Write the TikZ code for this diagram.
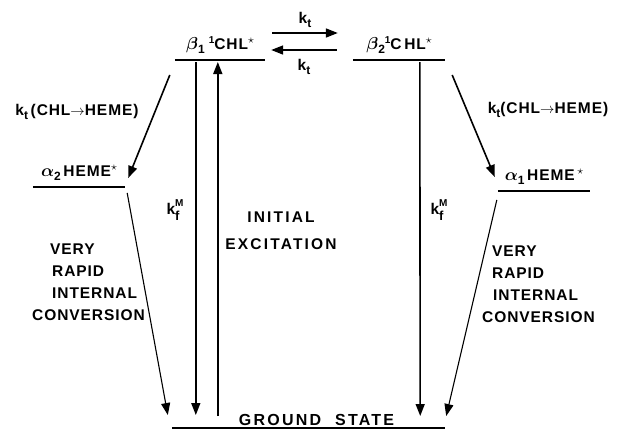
\documentclass[tikz,border=0pt]{standalone}
\usepackage{fontspec}
\setmainfont{Liberation Sans}
\newfontfamily\letterfont[LetterSpace=6]{Liberation Sans Bold}
\newfontfamily\widefont[LetterSpace=14]{Liberation Sans Bold}
\usetikzlibrary{arrows.meta, positioning}
\newcommand{\lowtxt}[1]{\raisebox{-4pt}{\fontsize{12}{12}\selectfont #1}}
\newcommand{\hightxt}[1]{\raisebox{6pt}{\fontsize{10}{10}\selectfont #1}}
\newcommand{\exstar}{\raisebox{6pt}{\fontsize{12}{12}\selectfont$\star$}}
\newcommand{\grk}[1]{{\fontsize{19}{19}\selectfont\boldmath$#1$}}
\newcommand{\kfM}{k\raisebox{-6pt}{\shortstack[l]{\fontsize{10}{10}\selectfont M\\[1pt]\fontsize{13}{13}\selectfont f}}}

\begin{document}
\begin{tikzpicture}[
    x=1pt, y=-1pt,
    state/.style={anchor=south, minimum width=#1, inner xsep=0pt,
                  inner ysep=6pt, font=\letterfont\fontsize{15.5}{17}\selectfont},
    stateline/.style={line width=1.8pt},
    lbl/.style={inner sep=0pt, font=\letterfont\fontsize{15.5}{22}\selectfont},
    arr/.style={-{Triangle[length=12pt, width=9pt]}, line width=1.6pt},
    conv/.style={-{Triangle[length=12pt, width=9pt]}, line width=1.1pt},
]
\useasboundingbox (0,0) rectangle (617,429);

%% Energy levels
\node[state=90] (b1) at (220,60)
    {\grk{\beta}\lowtxt{1}\hspace{4pt}\hightxt{1}CHL\exstar};
\node[state=92] (b2) at (399,60)
    {\grk{\beta}\lowtxt{2}\hightxt{1}C\,HL\exstar};
\node[state=92] (a2) at (79,187)
    {\grk{\alpha}\lowtxt{2}\,HEME\exstar};
\node[state=92] (a1) at (544,191)
    {\grk{\alpha}\lowtxt{1}\,HEME\,\exstar};
\node[state=273, inner ysep=2pt, font=\widefont\fontsize{16}{17}\selectfont] (gs) at (308.5,428)
    {\hspace{16pt}GROUND\hspace{14pt}STATE};

\foreach \s in {b1,b2,a2,a1,gs}
    \draw[stateline] (\s.south west) -- (\s.south east);

%% Transfer between chlorophylls
\draw[arr] ([shift={(7,-27)}]b1.south east) -- node[lbl, above=5pt] (kta) {k\lowtxt{t}}
           ([shift={(-15,-27)}]b2.south west);
\draw[arr] ([shift={(-16,-10)}]b2.south west) -- node[lbl, below=8pt] (ktb) {k\lowtxt{t}}
           ([shift={(6,-10)}]b1.south east);

%% Transfer to heme
\draw[arr] ([shift={(-5,15)}]b1.south west) -- ([shift={(3,-9)}]a2.south east);
\draw[arr] ([shift={(7,15)}]b2.south east) -- ([shift={(-3,-14)}]a1.south west);
\node[lbl] (ktl) at (77,112) {k\lowtxt{t}\,(CHL$\rightarrow$HEME)};
\node[lbl] (ktr) at (548,110) {k\lowtxt{t}(CHL$\rightarrow$HEME)};

%% Fluorescence and excitation
\draw[arr] ([shift={(21,2)}]b1.south west) -- ([shift={(24,-13)}]gs.south west);
\draw[arr] ([shift={(46,-12)}]gs.south west) -- ([shift={(43,2)}]b1.south west);
\draw[arr] ([shift={(67,2)}]b2.south west) -- ([shift={(-25,-12)}]gs.south east);
\node[lbl] (kfl) at (175,210) {\kfM};
\node[lbl] (kfr) at (439,210) {\kfM};
\node[lbl, align=center, font=\widefont\fontsize{15.5}{27}\selectfont] (exc) at (281,231)
    {INITIAL\\EXCITATION};

%% Internal conversion
\draw[conv] ([shift={(2,6)}]a2.south east) -- ([shift={(-4,-13)}]gs.south west);
\draw[conv] ([shift={(-1,9)}]a1.south west) -- ([shift={(1,-12)}]gs.south east);
\node[lbl, align=left, anchor=north west] (icl) at (32,244)
    {\hspace{18pt}VERY\\\hspace{20pt}RAPID\\\hspace{20pt}INTERNAL\\CONVERSION};
\node[lbl, align=left, anchor=north west] (icr) at (482,246)
    {\hspace{10pt}VERY\\\hspace{10pt}RAPID\\\hspace{11pt}INTERNAL\\CONVERSION};
\end{tikzpicture}
\end{document}
